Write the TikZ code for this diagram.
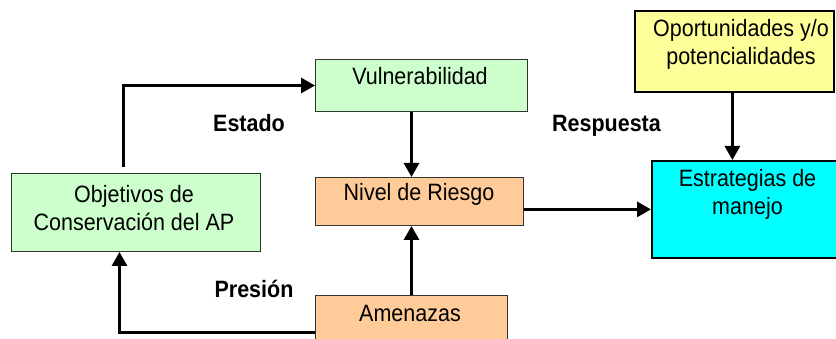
\documentclass[tikz,border=0pt]{standalone}
\usepackage{fontspec}
\setmainfont{Liberation Sans}
\usetikzlibrary{arrows.meta,calc}
\definecolor{lgreen}{HTML}{CCFFCC}
\definecolor{peach}{HTML}{FFCC99}
\definecolor{lyellow}{HTML}{FFFF99}
\definecolor{aqua}{HTML}{00FFFF}
\definecolor{edge}{HTML}{333333}
\newcommand\talltext[1]{\scalebox{1}[1.1]{#1}}
\begin{document}
\begin{tikzpicture}[x=1pt,y=-1pt,
  box/.style={draw=edge,line width=1pt,inner sep=0pt,anchor=north west},
  boxk/.style={draw=black,line width=1.8pt,inner sep=0pt,anchor=north west},
  txt/.style={anchor=base,inner sep=0pt,font=\fontsize{21.5pt}{28pt}\selectfont},
  lbl/.style={anchor=base,inner sep=0pt,font=\fontsize{21.5pt}{28pt}\selectfont\bfseries},
  arr/.style={line width=3pt,-{Triangle[length=14pt,width=15pt]}}]
\useasboundingbox (0,0) rectangle (836,339);
% boxes
\node[box,fill=lgreen,minimum width=212pt,minimum height=52pt] (vul) at (315,59) {};
\node[box,fill=peach,minimum width=208pt,minimum height=48pt] (niv) at (315,177) {};
\node[box,fill=peach,minimum width=192pt,minimum height=60pt] (ame) at (315,295) {};
\node[box,fill=lgreen,minimum width=249pt,minimum height=78pt] (obj) at (11,173) {};
\node[boxk,fill=lyellow,minimum width=199pt,minimum height=81pt] (opo) at (634,10) {};
\node[boxk,fill=aqua,minimum width=186pt,minimum height=97pt] (est) at (651,160) {};
% texts
\node[txt] (tvul) at (420,85) {\talltext{Vulnerabilidad}};
\node[txt] (tniv) at (419,201) {\talltext{Nivel de Riesgo}};
\node[txt] (tame) at (410,322) {\talltext{Amenazas}};
\node[txt] (tobj1) at (134,203) {\talltext{Objetivos de}};
\node[txt] (tobj2) at (134,231) {\talltext{Conservación del AP}};
\node[txt] (topo1) at (741,37) {\talltext{Oportunidades y/o}};
\node[txt] (topo2) at (741,65) {\talltext{potencialidades}};
\node[txt] (test1) at (747.5,187) {\talltext{Estrategias de}};
\node[txt] (test2) at (747.5,215) {\talltext{manejo}};
% labels
\node[lbl] (estado) at (249,132) {\talltext{Estado}};
\node[lbl] (resp) at (606.5,132) {\talltext{Respuesta}};
\node[lbl] (pres) at (254,298) {\talltext{Presión}};
% connectors
\coordinate (s1) at ($(obj.north)+(-12.5,-6)$);
\draw[arr] (s1) |- (vul.west);
\draw[arr] ([xshift=-10pt]vul.south) -- ([xshift=-10pt]vul.south |- niv.north);
\draw[arr] (ame.north) -- (ame.north |- niv.south);
\draw[arr] ([yshift=-7pt]ame.west) -| ([xshift=-16.5pt]obj.south);
\draw[arr] (est.west -| niv.east) -- (est.west);
\draw[arr] ([xshift=-2pt]opo.south) -- ([xshift=-2pt]opo.south |- est.north);
\end{tikzpicture}
\end{document}
